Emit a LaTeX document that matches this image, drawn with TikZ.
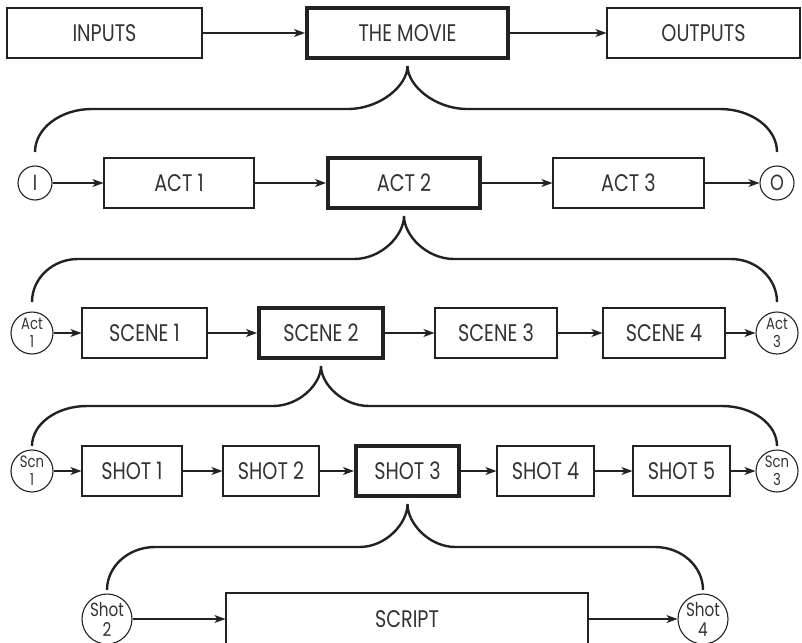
\documentclass[tikz,border=0pt]{standalone}
\usepackage{fontspec}
\setmainfont{Poppins}[FakeStretch=0.8]
\usetikzlibrary{arrows.meta,calc}
\definecolor{ink}{HTML}{222222}
\definecolor{txt}{HTML}{333333}
\tikzset{
  every node/.style={text=txt},
  box/.style={draw=ink, line width=1.1pt, minimum height=50pt, inner sep=0pt,
    font=\fontsize{24}{28}\selectfont},
  hbox/.style={box, line width=4pt},
  circ/.style={draw=ink, circle, line width=1.1pt, inner sep=0pt, minimum size=#1, align=center},
  lbl/.style={font=\fontsize{16.5}{18}\selectfont},
  slbl/.style={font=\fontsize{19}{20}\selectfont},
  iolbl/.style={font=\fontsize{22}{24}\selectfont},
  arr/.style={draw=ink, line width=1.1pt, -{Stealth[length=11pt,width=8pt,inset=3pt]}},
  brc/.style={draw=ink, line width=2.4pt},
}
% #1 tip node, #2 left node, #3 right node, #4 inner radius, #5 outer radius, #6 height
\newcommand{\bracelink}[6]{%
  \draw[brc] let \p1=(#2.center), \p2=($(#1.south)+(0,-6)$), \p3=(#3.center),
    \n1={\y2-#6}, \n2={\y2-2*#6} in
    (\x1,\n2) .. controls (\x1,{\n2+0.552*#6}) and ({\x1+0.448*#5},\n1) .. ({\x1+#5},\n1)
    -- ({\x2-#4},\n1) .. controls ({\x2-0.448*#4},\n1) and (\x2,{\n1+0.552*#6}) .. (\x2,\y2)
    .. controls (\x2,{\n1+0.552*#6}) and ({\x2+0.448*#4},\n1) .. ({\x2+#4},\n1)
    -- ({\x3-#5},\n1) .. controls ({\x3-0.448*#5},\n1) and (\x3,{\n2+0.552*#6}) .. (\x3,\n2);
}
\begin{document}
\begin{tikzpicture}[x=1pt,y=1pt]
\useasboundingbox (0,0) rectangle (802,-642);
% row 1
\node[box, minimum width=195pt] (inputs) at (104.5,-33) {INPUTS};
\node[hbox, minimum width=201pt] (movie) at (407.5,-33) {THE MOVIE};
\node[box, minimum width=193pt] (outputs) at (703.5,-33) {OUTPUTS};
% row 2
\node[circ=34pt, iolbl] (cI) at (35,-183) {I};
\node[box, minimum width=150pt] (act1) at (179,-183) {ACT 1};
\node[hbox, minimum width=152pt] (act2) at (404,-183) {ACT 2};
\node[box, minimum width=151pt] (act3) at (628.5,-183) {ACT 3};
\node[circ=34pt, iolbl] (cO) at (777,-183) {O};
% row 3
\node[circ=42pt, lbl] (ca1) at (32,-333) {Act\\1};
\node[box, minimum width=125pt] (scene1) at (144.5,-333) {SCENE 1};
\node[hbox, minimum width=124pt] (scene2) at (321,-333) {SCENE 2};
\node[box, minimum width=122pt] (scene3) at (496,-333) {SCENE 3};
\node[box, minimum width=122pt] (scene4) at (664,-333) {SCENE 4};
\node[circ=42pt, lbl] (ca3) at (777,-333) {Act\\3};
% row 4
\node[circ=42pt, lbl] (cs1) at (32,-471) {Scn\\1};
\node[box, minimum width=100pt] (shot1) at (132,-471) {SHOT 1};
\node[box, minimum width=96pt] (shot2) at (271,-471) {SHOT 2};
\node[hbox, minimum width=103pt] (shot3) at (407.5,-471) {SHOT 3};
\node[box, minimum width=97pt] (shot4) at (545.5,-471) {SHOT 4};
\node[box, minimum width=97pt] (shot5) at (681.5,-471) {SHOT 5};
\node[circ=42pt, lbl] (cs3) at (777,-471) {Scn\\3};
% row 5
\node[circ=50pt, slbl] (ch2) at (107,-619) {Shot\\2};
\node[box, minimum width=362pt, minimum height=52pt] (script) at (407,-619) {SCRIPT};
\node[circ=50pt, slbl] (ch4) at (703,-619) {Shot\\4};
% arrows
\draw[arr] (inputs) -- (movie);
\draw[arr] (movie) -- (outputs);
\draw[arr] (cI) -- (act1);
\draw[arr] (act1) -- (act2);
\draw[arr] (act2) -- (act3);
\draw[arr] (act3) -- (cO);
\draw[arr] (ca1) -- (scene1);
\draw[arr] (scene1) -- (scene2);
\draw[arr] (scene2) -- (scene3);
\draw[arr] (scene3) -- (scene4);
\draw[arr] (scene4) -- (ca3);
\draw[arr] (cs1) -- (shot1);
\draw[arr] (shot1) -- (shot2);
\draw[arr] (shot2) -- (shot3);
\draw[arr] (shot3) -- (shot4);
\draw[arr] (shot4) -- (shot5);
\draw[arr] (shot5) -- (cs3);
\draw[arr] (ch2) -- (script);
\draw[arr] (script) -- (ch4);
% braces
\bracelink{movie}{cI}{cO}{60}{57}{43}
\bracelink{act2}{ca1}{ca3}{50}{46}{43}
\bracelink{scene2}{cs1}{cs3}{48}{55}{40}
\bracelink{shot3}{ch2}{ch4}{48}{48}{43}
\end{tikzpicture}
\end{document}
